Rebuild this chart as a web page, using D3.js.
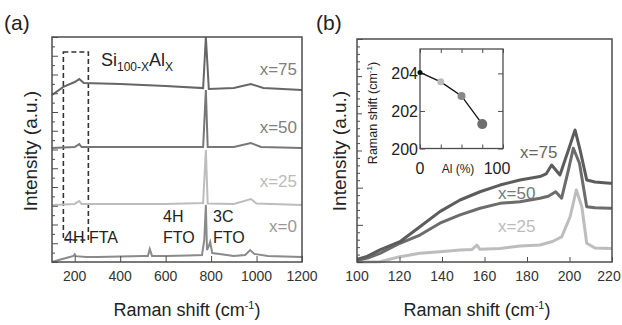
<!DOCTYPE html>
<html>
<head>
<meta charset="utf-8">
<script src="https://cdn.jsdelivr.net/npm/d3@7"></script>
<style>
  body { margin: 0; background: #fff; }
  svg { font-family: "Liberation Sans", Arial, sans-serif; }
</style>
</head>
<body>
<svg id="chart" width="622" height="325"></svg>
<script>
// ---- panel (a): full spectra, [shift, intensity] pairs
const seriesA = ['x=0', 'x=25', 'x=50', 'x=75'];
const colorsA = ['#8a8a8a', '#bdbdbd', '#777777', '#666666'];
const labelColorsA = ['#999999', '#bbbbbb', '#808080', '#808080'];
const spectraA = [
  [[100, 0], [130, 0.9], [170, 2], [195, 2.7], [200, 3.4], [205, 2.6], [250, 2.2], [300, 2.2], [400, 2.4], [500, 2.7],
   [522, 2.7], [530, 5.8], [540, 2.7], [600, 2.7], [700, 2.9], [760, 3.1], [770, 9.8], [777, 25.3], [782, 5.3],
   [790, 7.1], [796, 8.9], [805, 4], [900, 2.7], [950, 3.1], [972, 5.3], [990, 3.6], [1050, 2.7], [1200, 2.2]],
  [[100, 25.3], [200, 25.8], [220, 27.1], [230, 25.8], [400, 25.8], [600, 25.8], [765, 26.2], [777, 49.8], [785, 26],
   [900, 25.8], [975, 28], [1000, 26], [1200, 25.3]],
  [[100, 50.7], [200, 51.1], [220, 52.4], [230, 51.1], [500, 51.1], [765, 51.1], [777, 76.4], [785, 51.1],
   [900, 51.1], [975, 52.9], [1020, 51.1], [1200, 50.7]],
  [[100, 74.2], [150, 77.8], [200, 80], [220, 81.3], [240, 79.6], [400, 79.1], [600, 78.2], [765, 77.3], [777, 100],
   [790, 76.9], [900, 77.3], [975, 79.1], [1030, 77.3], [1200, 76.4]]
];
const xTicksA = [200, 400, 600, 800, 1000, 1200];

// ---- panel (b): zoom on the 4H FTA region
const seriesB = ['x=25', 'x=50', 'x=75'];
const colorsB = ['#bdbdbd', '#6c6c6c', '#5c5c5c'];
const labelColorsB = ['#bbbbbb', '#777777', '#666666'];
const spectraB = [
  [[100, 0], [110.8, 0.1], [120.2, 2.4], [129.6, 3.9], [139, 4.6], [148.5, 5.4], [154, 5.6], [156.4, 7.6],
   [157.9, 5.7], [167.3, 6.1], [176.7, 7.2], [186.1, 7.6], [192, 9.2], [196.3, 11.3], [200.3, 20.3], [203.2, 32.3],
   [205.8, 24.8], [208.1, 8.4], [212, 6.3], [219, 6.1], [220, 6.1]],
  [[100, 0.8], [105, 1.8], [110.8, 3.9], [120.2, 8.4], [129.6, 12.1], [139, 17.4], [148.5, 21.1], [157.9, 24.1],
   [167.3, 26.3], [176.7, 27], [186.1, 28.6], [190, 29.5], [193.5, 31.5], [196.3, 28.6], [199.5, 41.3], [201.8, 51],
   [204.7, 44.3], [208.1, 24.8], [212, 24.3], [219, 24.1], [220, 24.1]],
  [[100, 1.2], [105, 2.6], [110.8, 5.4], [120.2, 9.1], [129.6, 15.8], [139, 22.6], [148.5, 27.8], [157.9, 31.5],
   [167.3, 34.5], [176.7, 36.8], [186.1, 38.3], [189, 39.5], [191.6, 43.5], [195.5, 39], [199.5, 50.2], [202.6, 59.2],
   [205, 50.2], [208.1, 36.8], [212, 35.9], [219, 35.3], [220, 35.3]]
];
const xTicksB = [100, 120, 140, 160, 180, 200, 220];

// ---- inset: peak position vs Al content
const insetAl = [0, 25, 50, 75];
const insetShift = [204.05, 203.55, 202.8, 201.3];
const insetColors = ['#111111', '#bbbbbb', '#888888', '#6e6e6e'];
const insetRadius = [2.5, 3.5, 4, 5];
const insetYTicks = [200, 202, 204];

const svg = d3.select('#chart');
const frameColor = '#4d4d4d';
const textColor = '#222';

// ================= panel (a) =================
const xA = d3.scaleLinear().domain([100, 1200]).range([52, 302]);
const yA = d3.scaleLinear().domain([0, 100]).range([262, 37]);
const gA = svg.append('g');

gA.append('text').attr('x', 4).attr('y', 30).attr('font-size', 21).attr('fill', textColor).text('(a)');

// dashed box around 4H FTA region
gA.append('rect')
  .attr('x', xA(150)).attr('y', 52)
  .attr('width', xA(260) - xA(150)).attr('height', 188)
  .attr('fill', 'none').attr('stroke', '#333').attr('stroke-width', 1.6)
  .attr('stroke-dasharray', '5,3');

const lineA = d3.line().x(d => xA(d[0])).y(d => yA(d[1]));
gA.selectAll('path.spec')
  .data(spectraA)
  .join('path')
  .attr('class', 'spec')
  .attr('d', lineA)
  .attr('fill', 'none')
  .attr('stroke', (d, i) => colorsA[i])
  .attr('stroke-width', 2);

// frame
gA.append('rect').attr('x', 52).attr('y', 37).attr('width', 250).attr('height', 225)
  .attr('fill', 'none').attr('stroke', frameColor).attr('stroke-width', 1.5);

// left ticks (dense, inward)
const tickScaleA = d3.scaleLinear().domain([0, 24]).range([262, 37]);
gA.append('g').attr('transform', 'translate(52,0)')
  .call(d3.axisRight(tickScaleA).tickValues(d3.range(0, 25)).tickSize(5).tickFormat(''))
  .call(g => g.select('.domain').remove())
  .call(g => g.selectAll('line').attr('stroke', frameColor).attr('x2', (d) => d % 2 ? 3 : 6));

// bottom axis
gA.append('g').attr('transform', 'translate(0,262)')
  .call(d3.axisTop(xA).tickValues(xTicksA).tickSize(6).tickFormat(''))
  .call(g => g.select('.domain').remove())
  .call(g => g.selectAll('line').attr('stroke', frameColor));
gA.append('g')
  .selectAll('text')
  .data(xTicksA)
  .join('text')
  .attr('x', d => xA(d)).attr('y', 281)
  .attr('text-anchor', 'middle').attr('font-size', 14).attr('fill', '#333')
  .text(d => d);

// series labels
const labelYA = [232, 187, 133, 75];
gA.selectAll('text.lab')
  .data(seriesA)
  .join('text')
  .attr('class', 'lab')
  .attr('x', 297).attr('y', (d, i) => labelYA[i])
  .attr('text-anchor', 'end').attr('font-size', 17)
  .attr('fill', (d, i) => labelColorsA[i])
  .text(d => d);

// composition title
const title = gA.append('text').attr('x', 101).attr('y', 66).attr('font-size', 18).attr('fill', textColor);
title.append('tspan').text('Si');
title.append('tspan').attr('font-size', 12).attr('dy', 5).text('100-X');
title.append('tspan').attr('dy', -5).text('Al');
title.append('tspan').attr('font-size', 12).attr('dy', 5).text('X');

// mode annotations
const notes = [
  { x: 64, y: 243, t: '4H FTA' },
  { x: 163, y: 222, t: '4H' },
  { x: 163, y: 243, t: 'FTO' },
  { x: 213, y: 222, t: '3C' },
  { x: 213, y: 243, t: 'FTO' }
];
gA.selectAll('text.note')
  .data(notes)
  .join('text')
  .attr('class', 'note')
  .attr('x', d => d.x).attr('y', d => d.y)
  .attr('font-size', 16).attr('fill', textColor)
  .text(d => d.t);

// axis titles
gA.append('text').attr('transform', 'translate(37,151) rotate(-90)')
  .attr('text-anchor', 'middle').attr('font-size', 19).attr('fill', textColor)
  .text('Intensity (a.u.)');
const xtA = gA.append('text').attr('x', 187).attr('y', 316)
  .attr('text-anchor', 'middle').attr('font-size', 18).attr('fill', textColor);
xtA.append('tspan').text('Raman shift (cm');
xtA.append('tspan').attr('font-size', 11).attr('dy', -7).text('-1');
xtA.append('tspan').attr('dy', 7).text(')');

// ================= panel (b) =================
const xB = d3.scaleLinear().domain([100, 220]).range([357, 612]);
const yB = d3.scaleLinear().domain([0, 100]).range([262, 39]);
const gB = svg.append('g');

gB.append('text').attr('x', 316).attr('y', 30).attr('font-size', 21).attr('fill', textColor).text('(b)');

const lineB = d3.line().x(d => xB(d[0])).y(d => yB(d[1]));
gB.selectAll('path.spec')
  .data(spectraB)
  .join('path')
  .attr('class', 'spec')
  .attr('d', lineB)
  .attr('fill', 'none')
  .attr('stroke', (d, i) => colorsB[i])
  .attr('stroke-width', 3)
  .attr('stroke-linejoin', 'round');

gB.append('rect').attr('x', 357).attr('y', 39).attr('width', 255).attr('height', 223)
  .attr('fill', 'none').attr('stroke', frameColor).attr('stroke-width', 1.5);

const tickScaleB = d3.scaleLinear().domain([0, 30]).range([262, 39]);
gB.append('g').attr('transform', 'translate(357,0)')
  .call(d3.axisRight(tickScaleB).tickValues(d3.range(0, 31)).tickSize(3).tickFormat(''))
  .call(g => g.select('.domain').remove())
  .call(g => g.selectAll('line').attr('stroke', frameColor).attr('x2', (d) => d % 5 ? 3 : 6));

gB.append('g').attr('transform', 'translate(0,262)')
  .call(d3.axisTop(xB).tickValues(xTicksB).tickSize(5).tickFormat(''))
  .call(g => g.select('.domain').remove())
  .call(g => g.selectAll('line').attr('stroke', frameColor));
gB.append('g')
  .selectAll('text')
  .data(xTicksB)
  .join('text')
  .attr('x', d => Math.min(xB(d), 609)).attr('y', 281)
  .attr('text-anchor', 'middle').attr('font-size', 14).attr('fill', '#333')
  .text(d => d);

const labelPosB = [[498, 232], [498, 199], [520, 158]];
gB.selectAll('text.lab')
  .data(seriesB)
  .join('text')
  .attr('class', 'lab')
  .attr('x', (d, i) => labelPosB[i][0]).attr('y', (d, i) => labelPosB[i][1])
  .attr('font-size', 17)
  .attr('fill', (d, i) => labelColorsB[i])
  .text(d => d);

gB.append('text').attr('transform', 'translate(346,151) rotate(-90)')
  .attr('text-anchor', 'middle').attr('font-size', 19).attr('fill', textColor)
  .text('Intensity (a.u.)');
const xtB = gB.append('text').attr('x', 477).attr('y', 316)
  .attr('text-anchor', 'middle').attr('font-size', 18).attr('fill', textColor);
xtB.append('tspan').text('Raman shift (cm');
xtB.append('tspan').attr('font-size', 11).attr('dy', -7).text('-1');
xtB.append('tspan').attr('dy', 7).text(')');

// ---- inset
const xI = d3.scaleLinear().domain([0, 100]).range([420, 503]);
const yI = d3.scaleLinear().domain([200, 205.3]).range([148.5, 49]);
const gI = svg.append('g');

gI.append('rect').attr('x', 362).attr('y', 44).attr('width', 158).attr('height', 133).attr('fill', '#fff');
gI.append('rect').attr('x', 420).attr('y', 49).attr('width', 83).attr('height', 99.5)
  .attr('fill', 'none').attr('stroke', frameColor).attr('stroke-width', 1.3);

gI.append('g').attr('transform', 'translate(0,49)')
  .call(d3.axisBottom(xI).tickValues([0, 25, 50, 75, 100]).tickSize(4).tickFormat(''))
  .call(g => g.select('.domain').remove())
  .call(g => g.selectAll('line').attr('stroke', frameColor));
gI.append('g').attr('transform', 'translate(0,148.5)')
  .call(d3.axisTop(xI).tickValues([0, 25, 50, 75, 100]).tickSize(4).tickFormat(''))
  .call(g => g.select('.domain').remove())
  .call(g => g.selectAll('line').attr('stroke', frameColor));
gI.append('g').attr('transform', 'translate(420,0)')
  .call(d3.axisRight(yI).tickValues(insetYTicks).tickSize(5).tickFormat(''))
  .call(g => g.select('.domain').remove())
  .call(g => g.selectAll('line').attr('stroke', frameColor));
gI.append('g').attr('transform', 'translate(503,0)')
  .call(d3.axisLeft(yI).tickValues(insetYTicks).tickSize(5).tickFormat(''))
  .call(g => g.select('.domain').remove())
  .call(g => g.selectAll('line').attr('stroke', frameColor));

gI.selectAll('text.yt')
  .data(insetYTicks)
  .join('text')
  .attr('class', 'yt')
  .attr('x', 418).attr('y', d => yI(d) + 6)
  .attr('text-anchor', 'end').attr('font-size', 16).attr('fill', textColor)
  .text(d => d);

const pts = insetAl.map((a, i) => [a, insetShift[i]]);
gI.append('path')
  .attr('d', d3.line().x(d => xI(d[0])).y(d => yI(d[1]))(pts))
  .attr('fill', 'none').attr('stroke', '#111').attr('stroke-width', 1.3);
gI.selectAll('circle')
  .data(pts)
  .join('circle')
  .attr('cx', d => xI(d[0])).attr('cy', d => yI(d[1]))
  .attr('r', (d, i) => insetRadius[i])
  .attr('fill', (d, i) => insetColors[i]);

gI.append('text').attr('x', xI(0)).attr('y', 174).attr('text-anchor', 'middle')
  .attr('font-size', 16).attr('fill', textColor).text('0');
gI.append('text').attr('x', 458).attr('y', 173).attr('text-anchor', 'middle')
  .attr('font-size', 12).attr('fill', textColor).text('Al (%)');
gI.append('text').attr('x', 497).attr('y', 174).attr('text-anchor', 'middle')
  .attr('font-size', 16).attr('fill', textColor).text('100');

const ytI = gI.append('text').attr('transform', 'translate(377,113) rotate(-90)')
  .attr('text-anchor', 'middle').attr('font-size', 12.5).attr('fill', textColor);
ytI.append('tspan').text('Raman shift (cm');
ytI.append('tspan').attr('font-size', 8).attr('dy', -5).text('-1');
ytI.append('tspan').attr('dy', 5).text(')');
</script>
</body>
</html>
